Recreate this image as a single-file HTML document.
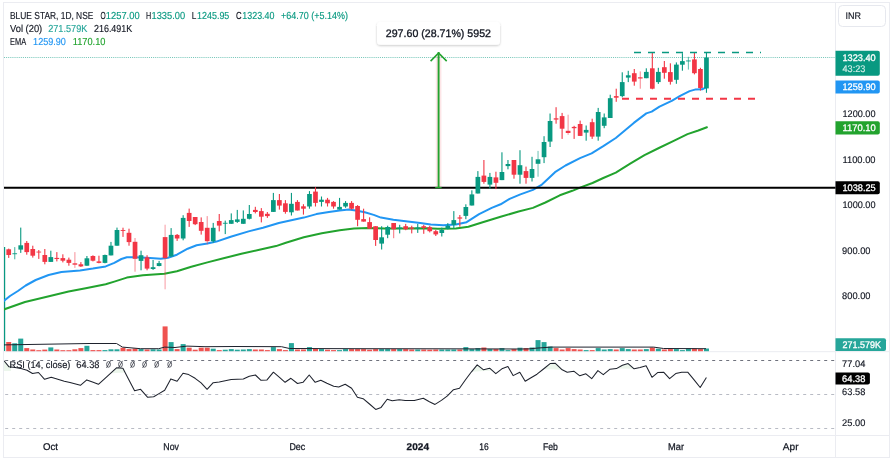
<!DOCTYPE html><html><head><meta charset="utf-8"><title>BLUE STAR chart</title>
<style>html,body{margin:0;padding:0;background:#fff}svg{display:block;will-change:transform}text{font-family:"Liberation Sans",sans-serif;text-rendering:geometricPrecision}</style></head><body>
<svg width="896" height="463" viewBox="0 0 896 463">
<rect width="896" height="463" fill="#fff"/>
<g fill="none" stroke="#ebecf1" stroke-width="1">
<rect x="3.5" y="2.5" width="886" height="455"/>
<line x1="835.5" y1="2.5" x2="835.5" y2="457.5"/>
<line x1="3.5" y1="435.5" x2="889.5" y2="435.5"/>
<line x1="3.5" y1="351.7" x2="889.5" y2="351.7"/>
</g>
<defs><clipPath id="cp"><rect x="4" y="3" width="831.5" height="432"/></clipPath>
<filter id="sh" x="-10%" y="-30%" width="120%" height="170%"><feDropShadow dx="0" dy="1" stdDeviation="1.2" flood-color="#000" flood-opacity="0.22"/></filter></defs>
<g clip-path="url(#cp)">
<line x1="4" y1="57.5" x2="835" y2="57.5" stroke="#089981" stroke-width="1" stroke-dasharray="1.05 1.05" opacity="0.55"/>
<line x1="5.2" y1="360.5" x2="835" y2="360.5" stroke="#6f727d" stroke-width="1" stroke-dasharray="3 4"/>
<line x1="5.2" y1="394.5" x2="835" y2="394.5" stroke="#b8bbc4" stroke-width="1" stroke-dasharray="3 4"/>
<line x1="5.2" y1="428.5" x2="835" y2="428.5" stroke="#b8bbc4" stroke-width="1" stroke-dasharray="3 4"/>
<g>
<rect x="3.4" y="247" width="1.8" height="104" fill="#089981"/>
<rect x="6.21" y="342.0" width="5.0" height="9.2" fill="#ef5350"/>
<rect x="12.23" y="343.3" width="5.0" height="7.9" fill="#26a69a"/>
<rect x="18.24" y="338.6" width="5.0" height="12.6" fill="#26a69a"/>
<rect x="24.26" y="348.1" width="5.0" height="3.1" fill="#ef5350"/>
<rect x="30.27" y="349.5" width="5.0" height="1.7" fill="#ef5350"/>
<rect x="36.29" y="350.2" width="5.0" height="1.0" fill="#ef5350"/>
<rect x="42.30" y="349.6" width="5.0" height="1.6" fill="#ef5350"/>
<rect x="48.32" y="347.4" width="5.0" height="3.8" fill="#26a69a"/>
<rect x="54.34" y="349.5" width="5.0" height="1.7" fill="#ef5350"/>
<rect x="60.35" y="350.2" width="5.0" height="1.0" fill="#ef5350"/>
<rect x="66.36" y="350.2" width="5.0" height="1.0" fill="#ef5350"/>
<rect x="72.38" y="349.3" width="5.0" height="1.9" fill="#ef5350"/>
<rect x="78.39" y="348.1" width="5.0" height="3.1" fill="#ef5350"/>
<rect x="84.41" y="345.8" width="5.0" height="5.4" fill="#26a69a"/>
<rect x="90.42" y="350.1" width="5.0" height="1.1" fill="#ef5350"/>
<rect x="96.44" y="350.1" width="5.0" height="1.1" fill="#ef5350"/>
<rect x="102.45" y="350.1" width="5.0" height="1.1" fill="#26a69a"/>
<rect x="108.47" y="349.3" width="5.0" height="1.9" fill="#26a69a"/>
<rect x="114.48" y="349.3" width="5.0" height="1.9" fill="#26a69a"/>
<rect x="120.50" y="347.7" width="5.0" height="3.5" fill="#ef5350"/>
<rect x="126.51" y="349.1" width="5.0" height="2.1" fill="#ef5350"/>
<rect x="132.53" y="348.5" width="5.0" height="2.7" fill="#ef5350"/>
<rect x="138.54" y="349.1" width="5.0" height="2.1" fill="#26a69a"/>
<rect x="144.56" y="349.5" width="5.0" height="1.7" fill="#ef5350"/>
<rect x="150.57" y="349.3" width="5.0" height="1.9" fill="#26a69a"/>
<rect x="156.59" y="349.5" width="5.0" height="1.7" fill="#26a69a"/>
<rect x="162.60" y="326.4" width="5.0" height="24.8" fill="#ef5350"/>
<rect x="168.62" y="342.1" width="5.0" height="9.1" fill="#26a69a"/>
<rect x="174.63" y="349.1" width="5.0" height="2.1" fill="#ef5350"/>
<rect x="180.65" y="344.1" width="5.0" height="7.1" fill="#26a69a"/>
<rect x="186.66" y="347.7" width="5.0" height="3.5" fill="#ef5350"/>
<rect x="192.68" y="349.7" width="5.0" height="1.5" fill="#ef5350"/>
<rect x="198.69" y="347.7" width="5.0" height="3.5" fill="#ef5350"/>
<rect x="204.71" y="347.7" width="5.0" height="3.5" fill="#ef5350"/>
<rect x="210.72" y="348.7" width="5.0" height="2.5" fill="#26a69a"/>
<rect x="216.74" y="350.1" width="5.0" height="1.1" fill="#ef5350"/>
<rect x="222.75" y="349.7" width="5.0" height="1.5" fill="#26a69a"/>
<rect x="228.77" y="349.1" width="5.0" height="2.1" fill="#26a69a"/>
<rect x="234.78" y="349.7" width="5.0" height="1.5" fill="#26a69a"/>
<rect x="240.80" y="349.5" width="5.0" height="1.7" fill="#26a69a"/>
<rect x="246.81" y="349.1" width="5.0" height="2.1" fill="#26a69a"/>
<rect x="252.83" y="349.5" width="5.0" height="1.7" fill="#ef5350"/>
<rect x="258.84" y="349.5" width="5.0" height="1.7" fill="#ef5350"/>
<rect x="264.86" y="350.1" width="5.0" height="1.1" fill="#ef5350"/>
<rect x="270.88" y="347.1" width="5.0" height="4.1" fill="#26a69a"/>
<rect x="276.89" y="349.1" width="5.0" height="2.1" fill="#ef5350"/>
<rect x="282.90" y="350.1" width="5.0" height="1.1" fill="#ef5350"/>
<rect x="288.92" y="343.1" width="5.0" height="8.1" fill="#26a69a"/>
<rect x="294.93" y="349.5" width="5.0" height="1.7" fill="#ef5350"/>
<rect x="300.95" y="349.5" width="5.0" height="1.7" fill="#ef5350"/>
<rect x="306.96" y="347.1" width="5.0" height="4.1" fill="#26a69a"/>
<rect x="312.98" y="348.7" width="5.0" height="2.5" fill="#ef5350"/>
<rect x="318.99" y="349.1" width="5.0" height="2.1" fill="#26a69a"/>
<rect x="325.01" y="349.7" width="5.0" height="1.5" fill="#ef5350"/>
<rect x="331.02" y="350.1" width="5.0" height="1.1" fill="#ef5350"/>
<rect x="337.04" y="350.1" width="5.0" height="1.1" fill="#26a69a"/>
<rect x="343.05" y="349.1" width="5.0" height="2.1" fill="#26a69a"/>
<rect x="349.07" y="349.1" width="5.0" height="2.1" fill="#ef5350"/>
<rect x="355.08" y="349.1" width="5.0" height="2.1" fill="#ef5350"/>
<rect x="361.10" y="349.1" width="5.0" height="2.1" fill="#ef5350"/>
<rect x="367.11" y="349.7" width="5.0" height="1.5" fill="#ef5350"/>
<rect x="373.13" y="349.1" width="5.0" height="2.1" fill="#ef5350"/>
<rect x="379.14" y="349.1" width="5.0" height="2.1" fill="#26a69a"/>
<rect x="385.16" y="349.1" width="5.0" height="2.1" fill="#26a69a"/>
<rect x="391.17" y="349.1" width="5.0" height="2.1" fill="#ef5350"/>
<rect x="397.19" y="349.1" width="5.0" height="2.1" fill="#26a69a"/>
<rect x="403.20" y="349.1" width="5.0" height="2.1" fill="#ef5350"/>
<rect x="409.22" y="349.5" width="5.0" height="1.7" fill="#ef5350"/>
<rect x="415.23" y="349.5" width="5.0" height="1.7" fill="#26a69a"/>
<rect x="421.25" y="349.5" width="5.0" height="1.7" fill="#ef5350"/>
<rect x="427.26" y="349.7" width="5.0" height="1.5" fill="#ef5350"/>
<rect x="433.28" y="349.5" width="5.0" height="1.7" fill="#ef5350"/>
<rect x="439.29" y="349.5" width="5.0" height="1.7" fill="#26a69a"/>
<rect x="445.31" y="349.5" width="5.0" height="1.7" fill="#26a69a"/>
<rect x="451.32" y="349.5" width="5.0" height="1.7" fill="#26a69a"/>
<rect x="457.34" y="349.5" width="5.0" height="1.7" fill="#ef5350"/>
<rect x="463.35" y="347.1" width="5.0" height="4.1" fill="#26a69a"/>
<rect x="469.37" y="349.1" width="5.0" height="2.1" fill="#26a69a"/>
<rect x="475.38" y="348.1" width="5.0" height="3.1" fill="#26a69a"/>
<rect x="481.40" y="347.5" width="5.0" height="3.7" fill="#ef5350"/>
<rect x="487.41" y="349.1" width="5.0" height="2.1" fill="#26a69a"/>
<rect x="493.43" y="349.1" width="5.0" height="2.1" fill="#ef5350"/>
<rect x="499.44" y="348.1" width="5.0" height="3.1" fill="#26a69a"/>
<rect x="505.46" y="350.1" width="5.0" height="1.1" fill="#26a69a"/>
<rect x="511.48" y="349.1" width="5.0" height="2.1" fill="#ef5350"/>
<rect x="517.49" y="347.7" width="5.0" height="3.5" fill="#26a69a"/>
<rect x="523.50" y="348.1" width="5.0" height="3.1" fill="#ef5350"/>
<rect x="529.52" y="347.5" width="5.0" height="3.7" fill="#26a69a"/>
<rect x="535.53" y="340.1" width="5.0" height="11.1" fill="#26a69a"/>
<rect x="541.55" y="342.1" width="5.0" height="9.1" fill="#26a69a"/>
<rect x="547.57" y="346.5" width="5.0" height="4.7" fill="#26a69a"/>
<rect x="553.58" y="348.1" width="5.0" height="3.1" fill="#ef5350"/>
<rect x="559.60" y="349.5" width="5.0" height="1.7" fill="#ef5350"/>
<rect x="565.61" y="348.1" width="5.0" height="3.1" fill="#ef5350"/>
<rect x="571.62" y="349.1" width="5.0" height="2.1" fill="#ef5350"/>
<rect x="577.64" y="349.5" width="5.0" height="1.7" fill="#ef5350"/>
<rect x="583.65" y="350.1" width="5.0" height="1.1" fill="#26a69a"/>
<rect x="589.67" y="350.1" width="5.0" height="1.1" fill="#ef5350"/>
<rect x="595.69" y="348.1" width="5.0" height="3.1" fill="#26a69a"/>
<rect x="601.70" y="349.5" width="5.0" height="1.7" fill="#26a69a"/>
<rect x="607.72" y="349.1" width="5.0" height="2.1" fill="#26a69a"/>
<rect x="613.73" y="349.5" width="5.0" height="1.7" fill="#ef5350"/>
<rect x="619.75" y="348.1" width="5.0" height="3.1" fill="#26a69a"/>
<rect x="625.76" y="349.1" width="5.0" height="2.1" fill="#26a69a"/>
<rect x="631.77" y="349.5" width="5.0" height="1.7" fill="#ef5350"/>
<rect x="637.79" y="349.5" width="5.0" height="1.7" fill="#ef5350"/>
<rect x="643.81" y="349.1" width="5.0" height="2.1" fill="#26a69a"/>
<rect x="649.82" y="347.5" width="5.0" height="3.7" fill="#ef5350"/>
<rect x="655.84" y="348.7" width="5.0" height="2.5" fill="#26a69a"/>
<rect x="661.85" y="349.5" width="5.0" height="1.7" fill="#ef5350"/>
<rect x="667.87" y="349.1" width="5.0" height="2.1" fill="#ef5350"/>
<rect x="673.88" y="349.1" width="5.0" height="2.1" fill="#26a69a"/>
<rect x="679.89" y="350.1" width="5.0" height="1.1" fill="#26a69a"/>
<rect x="685.91" y="348.5" width="5.0" height="2.7" fill="#26a69a"/>
<rect x="691.92" y="348.5" width="5.0" height="2.7" fill="#ef5350"/>
<rect x="697.94" y="349.1" width="5.0" height="2.1" fill="#ef5350"/>
<rect x="703.96" y="348.5" width="5.0" height="2.7" fill="#26a69a"/>
</g>
<polyline points="4.0,344.9 89.0,343.5 116.5,343.5 122.5,347.1 140.6,348.7 158.7,348.7 164.7,347.1 175.0,347.5 187.0,346.1 205.0,346.7 235.0,346.5 281.5,346.7 289.5,348.5 355.0,348.7 440.0,348.8 520.0,349.0 529.0,348.9 537.0,348.1 551.0,347.1 653.6,347.1 663.6,348.5 706.0,348.7" fill="none" stroke="#1e222d" stroke-width="1"/>
<polyline points="3.8,309.5 25.0,302.0 50.0,296.0 68.6,291.5 85.7,288.2 105.7,284.2 114.3,281.6 126.8,277.6 142.9,275.3 164.4,273.8 176.9,271.3 191.3,266.7 207.4,262.4 223.5,258.2 241.4,253.8 259.4,249.8 276.0,246.1 285.9,242.7 303.8,237.3 321.8,233.2 339.7,230.2 354.0,228.4 368.4,228.0 384.5,228.4 402.4,228.4 428.0,228.3 437.9,228.8 455.8,228.5 468.4,226.7 482.7,222.2 500.6,216.8 518.6,211.5 532.9,207.9 545.4,202.5 559.8,195.3 572.3,190.8 580.0,187.6 592.5,183.0 603.3,178.0 615.8,172.6 630.2,163.6 644.5,155.2 658.9,148.0 673.2,141.2 687.5,134.1 698.3,130.5 706.9,127.2" fill="none" stroke="#22a32e" stroke-width="2" stroke-linejoin="round" stroke-linecap="round"/>
<polyline points="3.8,301.0 10.0,296.0 17.9,291.0 25.7,285.5 35.7,280.0 48.6,275.0 61.4,272.1 80.0,270.4 92.9,268.6 105.7,266.4 114.3,262.9 121.4,259.0 126.8,257.3 134.8,257.3 146.5,257.7 160.8,258.8 168.0,257.7 176.9,254.7 187.7,248.7 196.6,245.2 207.4,243.5 216.4,241.6 230.7,236.7 248.6,231.4 263.0,227.8 278.8,223.0 291.3,220.3 303.8,217.6 316.4,214.1 328.9,211.9 339.7,210.5 348.6,209.6 355.8,210.5 364.8,212.3 373.7,214.9 380.9,217.6 393.4,219.8 407.8,221.6 420.3,223.0 430.8,224.5 443.3,225.3 455.8,224.5 466.6,222.2 479.1,214.1 491.7,207.9 500.6,204.3 509.6,198.9 520.4,194.4 532.9,189.9 541.9,184.6 548.9,178.0 555.0,172.2 565.5,165.5 580.0,158.2 591.6,153.4 603.3,146.2 615.8,138.0 624.8,130.5 633.8,122.9 646.3,113.4 651.7,111.6 659.5,106.6 671.7,100.9 680.6,95.6 689.6,91.1 695.0,89.6 702.2,89.3 705.0,87.8" fill="none" stroke="#2196f3" stroke-width="2" stroke-linejoin="round" stroke-linecap="round"/>
<line x1="4" y1="187.8" x2="836" y2="187.8" stroke="#000" stroke-width="2"/>
<rect x="8.16" y="248.6" width="1.1" height="9.3" fill="#f23645"/>
<rect x="6.37" y="249.3" width="4.7" height="5.7" fill="#f23645"/>
<rect x="14.18" y="247.1" width="1.1" height="12.2" fill="#089981" opacity="0.7"/>
<rect x="12.38" y="253.3" width="4.7" height="0.9" fill="#089981"/>
<rect x="20.19" y="227.6" width="1.1" height="25.3" fill="#089981"/>
<rect x="18.39" y="245.3" width="4.7" height="4.3" fill="#089981"/>
<rect x="26.21" y="241.0" width="1.1" height="13.7" fill="#f23645"/>
<rect x="24.41" y="242.9" width="4.7" height="9.2" fill="#f23645"/>
<rect x="32.23" y="245.7" width="1.1" height="11.9" fill="#f23645"/>
<rect x="30.42" y="249.0" width="4.7" height="6.7" fill="#f23645"/>
<rect x="38.24" y="250.0" width="1.1" height="8.9" fill="#f23645"/>
<rect x="36.44" y="251.6" width="4.7" height="0.9" fill="#f23645"/>
<rect x="44.26" y="249.0" width="1.1" height="15.3" fill="#f23645"/>
<rect x="42.45" y="255.0" width="4.7" height="6.9" fill="#f23645"/>
<rect x="50.27" y="250.7" width="1.1" height="11.2" fill="#089981"/>
<rect x="48.47" y="257.1" width="4.7" height="4.8" fill="#089981"/>
<rect x="56.29" y="252.1" width="1.1" height="9.3" fill="#f23645"/>
<rect x="54.48" y="257.9" width="4.7" height="1.1" fill="#f23645"/>
<rect x="62.30" y="254.3" width="1.1" height="8.1" fill="#f23645"/>
<rect x="60.50" y="258.1" width="4.7" height="2.6" fill="#f23645"/>
<rect x="68.31" y="257.6" width="1.1" height="8.1" fill="#f23645"/>
<rect x="66.52" y="259.7" width="4.7" height="3.2" fill="#f23645"/>
<rect x="74.33" y="252.1" width="1.1" height="15.8" fill="#f23645" opacity="0.5"/>
<rect x="72.53" y="263.3" width="4.7" height="1.4" fill="#f23645"/>
<rect x="80.34" y="262.1" width="1.1" height="4.8" fill="#f23645"/>
<rect x="78.55" y="264.3" width="4.7" height="2.1" fill="#f23645"/>
<rect x="86.36" y="256.0" width="1.1" height="9.7" fill="#089981"/>
<rect x="84.56" y="258.3" width="4.7" height="7.4" fill="#089981"/>
<rect x="92.38" y="255.3" width="1.1" height="6.1" fill="#f23645"/>
<rect x="90.58" y="256.0" width="4.7" height="4.7" fill="#f23645"/>
<rect x="98.39" y="255.7" width="1.1" height="7.6" fill="#f23645"/>
<rect x="96.59" y="261.4" width="4.7" height="1.5" fill="#f23645"/>
<rect x="104.41" y="254.6" width="1.1" height="8.7" fill="#089981"/>
<rect x="102.61" y="255.0" width="4.7" height="7.9" fill="#089981"/>
<rect x="110.42" y="241.9" width="1.1" height="13.5" fill="#089981"/>
<rect x="108.62" y="245.7" width="4.7" height="9.7" fill="#089981"/>
<rect x="116.44" y="227.6" width="1.1" height="18.1" fill="#089981"/>
<rect x="114.64" y="230.0" width="4.7" height="15.7" fill="#089981"/>
<rect x="122.45" y="227.7" width="1.1" height="9.2" fill="#f23645"/>
<rect x="120.65" y="230.0" width="4.7" height="0.9" fill="#f23645"/>
<rect x="128.46" y="228.7" width="1.1" height="17.0" fill="#f23645"/>
<rect x="126.66" y="232.8" width="4.7" height="9.3" fill="#f23645"/>
<rect x="134.48" y="238.0" width="1.1" height="33.7" fill="#f23645" opacity="0.55"/>
<rect x="132.68" y="241.8" width="4.7" height="17.0" fill="#f23645"/>
<rect x="140.49" y="250.7" width="1.1" height="19.6" fill="#089981"/>
<rect x="138.69" y="255.2" width="4.7" height="5.7" fill="#089981"/>
<rect x="146.51" y="255.2" width="1.1" height="15.1" fill="#f23645"/>
<rect x="144.71" y="257.3" width="4.7" height="11.3" fill="#f23645"/>
<rect x="152.52" y="260.0" width="1.1" height="9.9" fill="#089981"/>
<rect x="150.72" y="267.2" width="4.7" height="1.8" fill="#089981"/>
<rect x="158.54" y="260.9" width="1.1" height="5.4" fill="#089981"/>
<rect x="156.74" y="263.1" width="4.7" height="2.9" fill="#089981"/>
<rect x="164.55" y="224.7" width="1.1" height="64.6" fill="#f23645" opacity="0.45"/>
<rect x="162.75" y="237.1" width="4.7" height="21.1" fill="#f23645"/>
<rect x="170.57" y="228.1" width="1.1" height="28.4" fill="#089981"/>
<rect x="168.77" y="234.9" width="4.7" height="21.6" fill="#089981"/>
<rect x="176.58" y="234.0" width="1.1" height="6.9" fill="#f23645"/>
<rect x="174.78" y="234.9" width="4.7" height="3.6" fill="#f23645"/>
<rect x="182.60" y="215.2" width="1.1" height="25.1" fill="#089981"/>
<rect x="180.80" y="217.9" width="4.7" height="20.6" fill="#089981"/>
<rect x="188.61" y="208.6" width="1.1" height="18.3" fill="#f23645"/>
<rect x="186.81" y="212.9" width="4.7" height="8.1" fill="#f23645"/>
<rect x="194.63" y="217.0" width="1.1" height="8.1" fill="#f23645"/>
<rect x="192.83" y="217.0" width="4.7" height="7.2" fill="#f23645"/>
<rect x="200.64" y="217.4" width="1.1" height="17.2" fill="#f23645"/>
<rect x="198.84" y="222.0" width="4.7" height="8.8" fill="#f23645"/>
<rect x="206.66" y="216.1" width="1.1" height="28.2" fill="#f23645" opacity="0.55"/>
<rect x="204.86" y="227.8" width="4.7" height="13.4" fill="#f23645"/>
<rect x="212.67" y="222.9" width="1.1" height="19.8" fill="#089981"/>
<rect x="210.87" y="227.8" width="4.7" height="13.4" fill="#089981"/>
<rect x="218.69" y="214.0" width="1.1" height="17.4" fill="#f23645"/>
<rect x="216.89" y="221.0" width="4.7" height="4.6" fill="#f23645"/>
<rect x="224.70" y="220.6" width="1.1" height="13.5" fill="#089981"/>
<rect x="222.90" y="222.8" width="4.7" height="0.9" fill="#089981"/>
<rect x="230.72" y="213.4" width="1.1" height="10.4" fill="#089981"/>
<rect x="228.92" y="220.1" width="4.7" height="3.7" fill="#089981"/>
<rect x="236.73" y="209.9" width="1.1" height="13.0" fill="#089981"/>
<rect x="234.93" y="219.4" width="4.7" height="2.5" fill="#089981"/>
<rect x="242.75" y="210.4" width="1.1" height="13.4" fill="#089981"/>
<rect x="240.95" y="218.8" width="4.7" height="5.0" fill="#089981"/>
<rect x="248.76" y="205.0" width="1.1" height="14.4" fill="#089981"/>
<rect x="246.96" y="214.0" width="4.7" height="4.8" fill="#089981"/>
<rect x="254.78" y="206.8" width="1.1" height="6.6" fill="#f23645"/>
<rect x="252.98" y="209.9" width="4.7" height="2.1" fill="#f23645"/>
<rect x="260.79" y="208.1" width="1.1" height="14.3" fill="#f23645"/>
<rect x="258.99" y="211.1" width="4.7" height="5.6" fill="#f23645"/>
<rect x="266.81" y="212.0" width="1.1" height="5.9" fill="#f23645"/>
<rect x="265.01" y="213.8" width="4.7" height="2.3" fill="#f23645"/>
<rect x="272.82" y="192.9" width="1.1" height="19.0" fill="#089981"/>
<rect x="271.02" y="200.1" width="4.7" height="11.8" fill="#089981"/>
<rect x="278.84" y="194.0" width="1.1" height="15.6" fill="#f23645"/>
<rect x="277.04" y="200.1" width="4.7" height="5.5" fill="#f23645"/>
<rect x="284.85" y="200.1" width="1.1" height="13.6" fill="#f23645"/>
<rect x="283.05" y="203.3" width="4.7" height="8.6" fill="#f23645"/>
<rect x="290.87" y="192.9" width="1.1" height="22.6" fill="#089981"/>
<rect x="289.07" y="203.8" width="4.7" height="8.5" fill="#089981"/>
<rect x="296.88" y="200.1" width="1.1" height="10.4" fill="#f23645"/>
<rect x="295.08" y="201.9" width="4.7" height="8.6" fill="#f23645"/>
<rect x="302.90" y="204.2" width="1.1" height="10.4" fill="#f23645"/>
<rect x="301.10" y="206.3" width="4.7" height="2.4" fill="#f23645"/>
<rect x="308.91" y="191.1" width="1.1" height="17.6" fill="#089981"/>
<rect x="307.11" y="194.0" width="4.7" height="12.5" fill="#089981"/>
<rect x="314.93" y="187.2" width="1.1" height="19.3" fill="#f23645"/>
<rect x="313.13" y="191.6" width="4.7" height="11.3" fill="#f23645"/>
<rect x="320.94" y="196.5" width="1.1" height="10.0" fill="#089981"/>
<rect x="319.14" y="199.7" width="4.7" height="2.2" fill="#089981"/>
<rect x="326.96" y="197.9" width="1.1" height="8.6" fill="#f23645"/>
<rect x="325.16" y="199.7" width="4.7" height="3.6" fill="#f23645"/>
<rect x="332.97" y="201.1" width="1.1" height="7.6" fill="#f23645"/>
<rect x="331.17" y="201.9" width="4.7" height="4.6" fill="#f23645"/>
<rect x="338.99" y="197.9" width="1.1" height="11.7" fill="#089981"/>
<rect x="337.19" y="206.9" width="4.7" height="2.7" fill="#089981"/>
<rect x="345.00" y="201.1" width="1.1" height="6.7" fill="#089981"/>
<rect x="343.20" y="202.9" width="4.7" height="3.6" fill="#089981"/>
<rect x="351.02" y="201.1" width="1.1" height="8.5" fill="#f23645"/>
<rect x="349.22" y="202.9" width="4.7" height="5.8" fill="#f23645"/>
<rect x="357.03" y="205.1" width="1.1" height="21.1" fill="#f23645"/>
<rect x="355.23" y="206.0" width="4.7" height="13.8" fill="#f23645"/>
<rect x="363.05" y="208.7" width="1.1" height="12.9" fill="#f23645"/>
<rect x="361.25" y="219.1" width="4.7" height="2.5" fill="#f23645"/>
<rect x="369.06" y="217.3" width="1.1" height="11.4" fill="#f23645"/>
<rect x="367.26" y="222.1" width="4.7" height="6.6" fill="#f23645"/>
<rect x="375.08" y="226.2" width="1.1" height="19.7" fill="#f23645"/>
<rect x="373.28" y="226.2" width="4.7" height="13.8" fill="#f23645"/>
<rect x="381.09" y="226.2" width="1.1" height="23.3" fill="#089981"/>
<rect x="379.29" y="237.3" width="4.7" height="6.3" fill="#089981"/>
<rect x="387.11" y="225.7" width="1.1" height="12.5" fill="#089981"/>
<rect x="385.31" y="227.0" width="4.7" height="7.7" fill="#089981"/>
<rect x="393.12" y="223.0" width="1.1" height="15.2" fill="#f23645" opacity="0.65"/>
<rect x="391.32" y="223.0" width="4.7" height="6.3" fill="#f23645"/>
<rect x="399.14" y="224.8" width="1.1" height="8.6" fill="#089981"/>
<rect x="397.34" y="227.5" width="4.7" height="1.2" fill="#089981"/>
<rect x="405.15" y="223.9" width="1.1" height="6.3" fill="#f23645"/>
<rect x="403.35" y="226.2" width="4.7" height="3.1" fill="#f23645"/>
<rect x="411.17" y="225.7" width="1.1" height="7.7" fill="#f23645"/>
<rect x="409.37" y="227.5" width="4.7" height="1.2" fill="#f23645"/>
<rect x="417.18" y="223.9" width="1.1" height="9.0" fill="#089981"/>
<rect x="415.38" y="227.5" width="4.7" height="1.2" fill="#089981"/>
<rect x="423.20" y="224.8" width="1.1" height="9.0" fill="#f23645"/>
<rect x="421.40" y="226.2" width="4.7" height="1.8" fill="#f23645"/>
<rect x="429.21" y="225.8" width="1.1" height="6.6" fill="#f23645"/>
<rect x="427.41" y="227.2" width="4.7" height="4.0" fill="#f23645"/>
<rect x="435.23" y="229.9" width="1.1" height="6.1" fill="#f23645"/>
<rect x="433.43" y="231.2" width="4.7" height="3.2" fill="#f23645"/>
<rect x="441.24" y="227.6" width="1.1" height="8.9" fill="#089981"/>
<rect x="439.44" y="229.9" width="4.7" height="3.1" fill="#089981"/>
<rect x="447.26" y="223.1" width="1.1" height="6.3" fill="#089981"/>
<rect x="445.46" y="225.8" width="4.7" height="3.0" fill="#089981"/>
<rect x="453.27" y="211.1" width="1.1" height="17.4" fill="#089981"/>
<rect x="451.47" y="220.1" width="4.7" height="4.8" fill="#089981"/>
<rect x="459.29" y="215.0" width="1.1" height="11.7" fill="#f23645"/>
<rect x="457.49" y="217.4" width="4.7" height="1.2" fill="#f23645"/>
<rect x="465.30" y="204.3" width="1.1" height="14.9" fill="#089981"/>
<rect x="463.50" y="207.0" width="4.7" height="8.9" fill="#089981"/>
<rect x="471.32" y="190.3" width="1.1" height="15.2" fill="#089981"/>
<rect x="469.52" y="194.4" width="4.7" height="11.1" fill="#089981"/>
<rect x="477.33" y="171.1" width="1.1" height="22.4" fill="#089981"/>
<rect x="475.53" y="176.9" width="4.7" height="16.6" fill="#089981"/>
<rect x="483.35" y="160.0" width="1.1" height="23.7" fill="#f23645"/>
<rect x="481.55" y="175.6" width="4.7" height="6.3" fill="#f23645"/>
<rect x="489.36" y="172.9" width="1.1" height="15.8" fill="#089981"/>
<rect x="487.56" y="176.9" width="4.7" height="7.7" fill="#089981"/>
<rect x="495.38" y="171.7" width="1.1" height="17.4" fill="#f23645"/>
<rect x="493.58" y="177.4" width="4.7" height="5.4" fill="#f23645"/>
<rect x="501.39" y="152.3" width="1.1" height="27.8" fill="#089981"/>
<rect x="499.59" y="172.0" width="4.7" height="8.1" fill="#089981"/>
<rect x="507.41" y="160.0" width="1.1" height="9.3" fill="#089981"/>
<rect x="505.61" y="164.0" width="4.7" height="2.1" fill="#089981"/>
<rect x="513.43" y="160.0" width="1.1" height="18.7" fill="#f23645"/>
<rect x="511.62" y="160.0" width="4.7" height="14.7" fill="#f23645"/>
<rect x="519.44" y="150.2" width="1.1" height="33.5" fill="#089981"/>
<rect x="517.64" y="165.2" width="4.7" height="9.5" fill="#089981"/>
<rect x="525.46" y="166.6" width="1.1" height="17.1" fill="#f23645"/>
<rect x="523.65" y="171.1" width="4.7" height="6.8" fill="#f23645"/>
<rect x="531.47" y="156.8" width="1.1" height="24.7" fill="#089981"/>
<rect x="529.67" y="169.0" width="4.7" height="8.9" fill="#089981"/>
<rect x="537.49" y="150.9" width="1.1" height="25.8" fill="#089981" opacity="0.55"/>
<rect x="535.68" y="159.3" width="4.7" height="4.5" fill="#089981"/>
<rect x="543.50" y="136.2" width="1.1" height="26.9" fill="#089981"/>
<rect x="541.70" y="142.0" width="4.7" height="15.2" fill="#089981"/>
<rect x="549.52" y="113.5" width="1.1" height="33.5" fill="#089981"/>
<rect x="547.72" y="121.0" width="4.7" height="20.6" fill="#089981"/>
<rect x="555.53" y="107.2" width="1.1" height="16.5" fill="#f23645"/>
<rect x="553.73" y="118.3" width="4.7" height="1.3" fill="#f23645"/>
<rect x="561.55" y="112.9" width="1.1" height="26.0" fill="#f23645"/>
<rect x="559.75" y="116.1" width="4.7" height="12.6" fill="#f23645"/>
<rect x="567.56" y="114.7" width="1.1" height="20.1" fill="#f23645" opacity="0.5"/>
<rect x="565.76" y="130.8" width="4.7" height="2.2" fill="#f23645"/>
<rect x="573.58" y="125.8" width="1.1" height="13.1" fill="#f23645"/>
<rect x="571.77" y="126.9" width="4.7" height="1.3" fill="#f23645"/>
<rect x="579.59" y="120.6" width="1.1" height="15.3" fill="#f23645"/>
<rect x="577.79" y="124.0" width="4.7" height="11.9" fill="#f23645"/>
<rect x="585.61" y="125.5" width="1.1" height="15.2" fill="#089981"/>
<rect x="583.80" y="129.9" width="4.7" height="2.7" fill="#089981"/>
<rect x="591.62" y="118.7" width="1.1" height="20.2" fill="#f23645"/>
<rect x="589.82" y="122.2" width="4.7" height="14.4" fill="#f23645"/>
<rect x="597.64" y="107.9" width="1.1" height="32.8" fill="#089981"/>
<rect x="595.84" y="112.0" width="4.7" height="24.6" fill="#089981"/>
<rect x="603.65" y="113.5" width="1.1" height="14.7" fill="#089981"/>
<rect x="601.85" y="117.4" width="4.7" height="8.4" fill="#089981"/>
<rect x="609.67" y="94.7" width="1.1" height="23.3" fill="#089981"/>
<rect x="607.87" y="98.2" width="4.7" height="19.8" fill="#089981"/>
<rect x="615.68" y="88.7" width="1.1" height="13.1" fill="#f23645"/>
<rect x="613.88" y="96.1" width="4.7" height="1.6" fill="#f23645"/>
<rect x="621.70" y="72.3" width="1.1" height="25.0" fill="#089981"/>
<rect x="619.89" y="82.1" width="4.7" height="14.0" fill="#089981"/>
<rect x="627.71" y="70.8" width="1.1" height="11.3" fill="#089981"/>
<rect x="625.91" y="75.3" width="4.7" height="2.3" fill="#089981"/>
<rect x="633.73" y="69.0" width="1.1" height="16.7" fill="#f23645"/>
<rect x="631.92" y="73.2" width="4.7" height="8.4" fill="#f23645"/>
<rect x="639.74" y="71.4" width="1.1" height="17.3" fill="#f23645" opacity="0.55"/>
<rect x="637.94" y="77.3" width="4.7" height="1.2" fill="#f23645"/>
<rect x="645.76" y="68.3" width="1.1" height="9.9" fill="#089981"/>
<rect x="643.96" y="71.9" width="4.7" height="6.3" fill="#089981"/>
<rect x="651.77" y="52.5" width="1.1" height="36.8" fill="#f23645"/>
<rect x="649.97" y="68.3" width="4.7" height="20.4" fill="#f23645"/>
<rect x="657.79" y="67.8" width="1.1" height="16.1" fill="#089981"/>
<rect x="655.99" y="71.9" width="4.7" height="10.2" fill="#089981"/>
<rect x="663.80" y="61.0" width="1.1" height="17.7" fill="#f23645"/>
<rect x="662.00" y="67.2" width="4.7" height="5.6" fill="#f23645"/>
<rect x="669.82" y="63.3" width="1.1" height="21.3" fill="#f23645"/>
<rect x="668.01" y="72.1" width="4.7" height="9.7" fill="#f23645"/>
<rect x="675.83" y="62.4" width="1.1" height="21.4" fill="#089981"/>
<rect x="674.03" y="64.6" width="4.7" height="15.2" fill="#089981"/>
<rect x="681.85" y="53.2" width="1.1" height="17.5" fill="#089981"/>
<rect x="680.04" y="61.1" width="4.7" height="3.6" fill="#089981"/>
<rect x="687.86" y="56.8" width="1.1" height="12.8" fill="#089981" opacity="0.6"/>
<rect x="686.06" y="60.5" width="4.7" height="0.9" fill="#089981"/>
<rect x="693.88" y="52.3" width="1.1" height="22.1" fill="#f23645"/>
<rect x="692.07" y="59.4" width="4.7" height="13.8" fill="#f23645"/>
<rect x="699.89" y="67.8" width="1.1" height="22.8" fill="#f23645"/>
<rect x="698.09" y="69.0" width="4.7" height="19.0" fill="#f23645"/>
<rect x="705.91" y="52.4" width="1.1" height="40.4" fill="#089981"/>
<rect x="704.11" y="57.5" width="4.7" height="30.9" fill="#089981"/>
<line x1="634" y1="52.5" x2="761" y2="52.5" stroke="#089981" stroke-width="1.5" stroke-dasharray="7 7"/>
<line x1="622" y1="98.8" x2="755" y2="98.8" stroke="#f23645" stroke-width="2" stroke-dasharray="7 7"/>
<rect x="435.8" y="54" width="5.6" height="133" fill="#f23645" opacity="0.13"/>
<g stroke="#22a32e" stroke-width="1.9" fill="none" stroke-linecap="butt">
<line x1="438.6" y1="52" x2="438.6" y2="187.5"/>
<polyline points="430.6,61.1 438.6,53 446.7,61.1" stroke-linejoin="bevel" stroke-width="1.6"/>
<line x1="435.2" y1="187.6" x2="441.6" y2="187.6" stroke-width="1.2"/>
</g>
<g fill="#4caf50" opacity="0.10">
<polygon points="4,360.8 9,366.8 11,367.2 11,371 4,371"/>
<polygon points="110.5,373.3 116.5,367.8 122.9,368.2 125,372.5"/>
<polygon points="543.5,369 550.1,363.6 555.1,363.2 562.2,369.8"/>
<polygon points="616.4,368.6 622.4,365.2 628.1,363.6 634.1,368.8"/>
<polygon points="471.5,371.8 477.2,364.8 483.6,369.8 489.6,368.2 492,370.5"/>
</g>
<polyline points="4.0,360.8 9.0,366.8 15.0,367.5 21.0,368.5 27.0,370.2 32.5,373.5 38.5,372.5 44.6,379.3 51.2,377.3 57.0,379.0 64.3,381.3 70.0,382.5 80.4,385.3 86.8,379.9 92.5,382.0 98.4,384.3 104.5,378.8 110.5,373.3 116.5,367.8 122.9,368.2 128.7,379.5 134.6,390.7 140.6,389.3 147.7,397.3 153.7,396.7 159.0,393.6 164.7,390.3 170.8,378.9 177.1,381.3 183.0,373.2 188.7,374.6 195.1,378.3 201.1,382.9 207.1,389.3 213.2,382.7 219.2,381.9 225.2,380.7 231.2,379.5 237.2,379.2 243.3,378.9 249.3,376.2 255.4,375.0 261.0,380.3 267.0,379.9 273.4,372.2 279.5,377.3 285.1,382.3 290.9,378.3 297.5,383.5 303.0,382.3 309.2,375.0 315.2,382.3 320.8,380.3 326.9,383.3 333.7,386.3 338.7,386.9 345.2,384.3 351.6,388.3 357.4,397.3 363.1,398.7 369.5,404.0 375.7,409.4 381.1,407.4 387.2,399.3 392.2,400.8 399.2,399.8 405.2,400.4 414.3,400.4 423.3,398.3 429.4,401.8 435.0,404.4 441.4,400.4 447.4,395.9 453.5,389.7 459.5,388.3 465.5,379.7 471.5,371.8 477.2,364.8 483.6,369.8 489.6,368.2 495.8,373.6 501.9,368.8 507.9,366.6 513.1,375.6 519.8,372.2 525.2,381.3 531.0,377.8 537.0,374.2 543.5,369.0 550.1,363.6 555.1,363.2 562.2,369.8 567.2,372.2 573.8,371.2 579.8,375.8 585.9,373.8 591.7,378.7 597.9,370.6 603.3,374.6 610.0,369.2 616.4,368.6 622.4,365.2 628.1,363.6 634.1,368.8 640.1,367.6 646.1,365.8 652.0,377.3 657.6,372.6 663.6,372.2 669.6,378.7 675.7,373.6 681.7,372.2 687.7,372.2 693.7,379.3 700.2,387.5 706.4,377.5" fill="none" stroke="#1e222d" stroke-width="1.05" stroke-linejoin="round"/>
</g>
<rect x="377" y="21.8" width="123" height="23" rx="3.5" fill="#fff" filter="url(#sh)"/>
<text x="385.8" y="36.9" font-size="10.9" fill="#131722" stroke="#131722" stroke-width="0.32" textLength="105.2" lengthAdjust="spacingAndGlyphs">297.60 (28.71%) 5952</text>
<text x="10" y="18.5" font-size="10.2" fill="#131722" stroke="#131722" stroke-width="0.15" textLength="83.4" lengthAdjust="spacingAndGlyphs">BLUE STAR, 1D, NSE</text>
<text x="100.4" y="18.5" font-size="10.2" fill="#131722" stroke="#131722" stroke-width="0.15" textLength="5.2" lengthAdjust="spacingAndGlyphs">O</text>
<text x="105.8" y="18.5" font-size="10.2" fill="#089981" stroke="#089981" stroke-width="0.15" textLength="33.8" lengthAdjust="spacingAndGlyphs">1257.00</text>
<text x="146" y="18.5" font-size="10.2" fill="#131722" stroke="#131722" stroke-width="0.15" textLength="5.2" lengthAdjust="spacingAndGlyphs">H</text>
<text x="151.5" y="18.5" font-size="10.2" fill="#089981" stroke="#089981" stroke-width="0.15" textLength="33.6" lengthAdjust="spacingAndGlyphs">1335.00</text>
<text x="191.7" y="18.5" font-size="10.2" fill="#131722" stroke="#131722" stroke-width="0.15" textLength="4.6" lengthAdjust="spacingAndGlyphs">L</text>
<text x="197.1" y="18.5" font-size="10.2" fill="#089981" stroke="#089981" stroke-width="0.15" textLength="32.2" lengthAdjust="spacingAndGlyphs">1245.95</text>
<text x="235.9" y="18.5" font-size="10.2" fill="#131722" stroke="#131722" stroke-width="0.15" textLength="5.6" lengthAdjust="spacingAndGlyphs">C</text>
<text x="242.3" y="18.5" font-size="10.2" fill="#089981" stroke="#089981" stroke-width="0.15" textLength="32.2" lengthAdjust="spacingAndGlyphs">1323.40</text>
<text x="281.1" y="18.5" font-size="10.2" fill="#089981" stroke="#089981" stroke-width="0.15" textLength="66.9" lengthAdjust="spacingAndGlyphs">+64.70 (+5.14%)</text>
<text x="10" y="31.5" font-size="10.2" fill="#131722" stroke="#131722" stroke-width="0.15" textLength="32.2" lengthAdjust="spacingAndGlyphs">Vol (20)</text>
<text x="48.2" y="31.5" font-size="10.2" fill="#26a69a" stroke="#26a69a" stroke-width="0.15" textLength="39.2" lengthAdjust="spacingAndGlyphs">271.579K</text>
<text x="94" y="31.5" font-size="10.2" fill="#131722" stroke="#131722" stroke-width="0.15" textLength="38.2" lengthAdjust="spacingAndGlyphs">216.491K</text>
<text x="10" y="44.7" font-size="10.2" fill="#131722" stroke="#131722" stroke-width="0.15" textLength="16.1" lengthAdjust="spacingAndGlyphs">EMA</text>
<text x="33.1" y="44.7" font-size="10.2" fill="#2196f3" stroke="#2196f3" stroke-width="0.15" textLength="32.8" lengthAdjust="spacingAndGlyphs">1259.90</text>
<text x="72.7" y="44.7" font-size="10.2" fill="#22a32e" stroke="#22a32e" stroke-width="0.15" textLength="32.8" lengthAdjust="spacingAndGlyphs">1170.10</text>
<text x="9.6" y="367.8" font-size="9.6" fill="#131722" stroke="#131722" stroke-width="0.15" textLength="60.7" lengthAdjust="spacingAndGlyphs">RSI (14, close)</text>
<text x="76.3" y="367.8" font-size="9.6" fill="#131722" stroke="#131722" stroke-width="0.15" textLength="23.1" lengthAdjust="spacingAndGlyphs">64.38</text>
<g stroke="#2a2e39" stroke-width="0.75" fill="none"><ellipse cx="108.5" cy="364.4" rx="1.9" ry="2.8"/><line x1="106.5" y1="368" x2="110.5" y2="360.8"/></g>
<g stroke="#2a2e39" stroke-width="0.75" fill="none"><ellipse cx="120.5" cy="364.4" rx="1.9" ry="2.8"/><line x1="118.5" y1="368" x2="122.5" y2="360.8"/></g>
<g stroke="#2a2e39" stroke-width="0.75" fill="none"><ellipse cx="132.6" cy="364.4" rx="1.9" ry="2.8"/><line x1="130.6" y1="368" x2="134.6" y2="360.8"/></g>
<g stroke="#2a2e39" stroke-width="0.75" fill="none"><ellipse cx="144.6" cy="364.4" rx="1.9" ry="2.8"/><line x1="142.6" y1="368" x2="146.6" y2="360.8"/></g>
<g stroke="#2a2e39" stroke-width="0.75" fill="none"><ellipse cx="156.7" cy="364.4" rx="1.9" ry="2.8"/><line x1="154.7" y1="368" x2="158.7" y2="360.8"/></g>
<g stroke="#2a2e39" stroke-width="0.75" fill="none"><ellipse cx="169.7" cy="364.4" rx="1.9" ry="2.8"/><line x1="167.7" y1="368" x2="171.7" y2="360.8"/></g>
<rect x="838.5" y="5.5" width="47" height="21" rx="4" fill="#fff" stroke="#e6e8ee"/>
<text x="845.5" y="19.2" font-size="9.6" fill="#131722" stroke="#131722" stroke-width="0.15" textLength="15.5" lengthAdjust="spacingAndGlyphs">INR</text>
<path d="M835.5,50.8H877.8a2,2 0 0 1 2,2V73.69999999999999a2,2 0 0 1 -2,2H835.5Z" fill="#089981"/>
<text x="842.5" y="61.1" font-size="9.6" fill="#fff" stroke="#fff" stroke-width="0.3" textLength="33.2" lengthAdjust="spacingAndGlyphs">1323.40</text>
<text x="842.5" y="72.1" font-size="9.6" fill="#d5efe9" stroke="#d5efe9" stroke-width="0.15" textLength="22.8" lengthAdjust="spacingAndGlyphs">43:23</text>
<path d="M835.5,80.4H877.8a2,2 0 0 1 2,2V91.5a2,2 0 0 1 -2,2H835.5Z" fill="#2196f3"/>
<text x="842.5" y="90.4" font-size="9.6" fill="#fff" stroke="#fff" stroke-width="0.3" textLength="33.2" lengthAdjust="spacingAndGlyphs">1259.90</text>
<text x="842.5" y="117.4" font-size="9.6" fill="#131722" stroke="#131722" stroke-width="0.15" textLength="33" lengthAdjust="spacingAndGlyphs">1200.00</text>
<path d="M835.5,121.3H877.8a2,2 0 0 1 2,2V132.4a2,2 0 0 1 -2,2H835.5Z" fill="#22a32e"/>
<text x="842.5" y="131.2" font-size="9.6" fill="#fff" stroke="#fff" stroke-width="0.3" textLength="33.2" lengthAdjust="spacingAndGlyphs">1170.10</text>
<text x="842.5" y="162.8" font-size="9.6" fill="#131722" stroke="#131722" stroke-width="0.15" textLength="33" lengthAdjust="spacingAndGlyphs">1100.00</text>
<path d="M835.5,181.2H877.8a2,2 0 0 1 2,2V192.29999999999998a2,2 0 0 1 -2,2H835.5Z" fill="#000"/>
<text x="842.5" y="191.2" font-size="9.6" fill="#fff" stroke="#fff" stroke-width="0.3" textLength="33.2" lengthAdjust="spacingAndGlyphs">1038.25</text>
<text x="842.5" y="208.4" font-size="9.6" fill="#131722" stroke="#131722" stroke-width="0.15" textLength="33" lengthAdjust="spacingAndGlyphs">1000.00</text>
<text x="842.1" y="253.6" font-size="9.6" fill="#131722" stroke="#131722" stroke-width="0.15" textLength="28.4" lengthAdjust="spacingAndGlyphs">900.00</text>
<text x="842.1" y="299.2" font-size="9.6" fill="#131722" stroke="#131722" stroke-width="0.15" textLength="28.4" lengthAdjust="spacingAndGlyphs">800.00</text>
<path d="M835.5,338.2H884.0a2,2 0 0 1 2,2V349.09999999999997a2,2 0 0 1 -2,2H835.5Z" fill="#26a69a"/>
<text x="842.5" y="348" font-size="9.6" fill="#fff" stroke="#fff" stroke-width="0.3" textLength="38.4" lengthAdjust="spacingAndGlyphs">271.579K</text>
<text x="842.1" y="366.6" font-size="9.6" fill="#131722" stroke="#131722" stroke-width="0.15" textLength="23.2" lengthAdjust="spacingAndGlyphs">77.04</text>
<path d="M835.5,372.4H867.9a2,2 0 0 1 2,2V382.5a2,2 0 0 1 -2,2H835.5Z" fill="#000"/>
<text x="842.1" y="381.8" font-size="9.6" fill="#fff" stroke="#fff" stroke-width="0.3" textLength="23.2" lengthAdjust="spacingAndGlyphs">64.38</text>
<text x="842.1" y="394.6" font-size="9.6" fill="#131722" stroke="#131722" stroke-width="0.15" textLength="23.2" lengthAdjust="spacingAndGlyphs">63.58</text>
<text x="842.1" y="425.9" font-size="9.6" fill="#131722" stroke="#131722" stroke-width="0.15" textLength="23.2" lengthAdjust="spacingAndGlyphs">25.00</text>
<text x="50.4" y="449.5" font-size="9.8" fill="#131722" stroke="#131722" stroke-width="0.25" text-anchor="middle" textLength="15" lengthAdjust="spacingAndGlyphs">Oct</text>
<text x="171.1" y="449.5" font-size="9.8" fill="#131722" stroke="#131722" stroke-width="0.25" text-anchor="middle" textLength="15.6" lengthAdjust="spacingAndGlyphs">Nov</text>
<text x="297.3" y="449.5" font-size="9.8" fill="#131722" stroke="#131722" stroke-width="0.25" text-anchor="middle" textLength="15.8" lengthAdjust="spacingAndGlyphs">Dec</text>
<text x="417.8" y="449.5" font-size="9.8" fill="#131722" stroke="#131722" stroke-width="0.25" text-anchor="middle" textLength="22.4" lengthAdjust="spacingAndGlyphs" font-weight="bold">2024</text>
<text x="483.9" y="449.5" font-size="9.8" fill="#131722" stroke="#131722" stroke-width="0.25" text-anchor="middle" textLength="9.4" lengthAdjust="spacingAndGlyphs">16</text>
<text x="550.4" y="449.5" font-size="9.8" fill="#131722" stroke="#131722" stroke-width="0.25" text-anchor="middle" textLength="15" lengthAdjust="spacingAndGlyphs">Feb</text>
<text x="676" y="449.5" font-size="9.8" fill="#131722" stroke="#131722" stroke-width="0.25" text-anchor="middle" textLength="16" lengthAdjust="spacingAndGlyphs">Mar</text>
<text x="790.7" y="449.5" font-size="9.8" fill="#131722" stroke="#131722" stroke-width="0.25" text-anchor="middle" textLength="15.7" lengthAdjust="spacingAndGlyphs">Apr</text>
</svg></body></html>
